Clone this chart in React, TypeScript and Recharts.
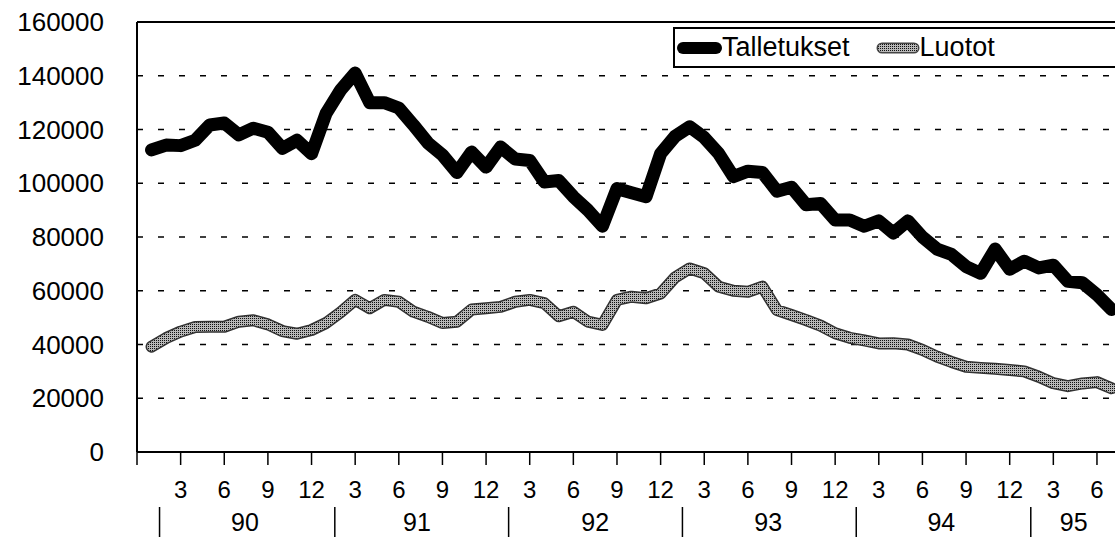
import React from 'react';
import { LineChart, Line, XAxis, YAxis, CartesianGrid, ReferenceLine, Legend } from 'recharts';

const FONT = "'Liberation Sans', Arial, Helvetica, sans-serif";

// Monthly values, Jan 1990 ... Jul 1995
const talletukset = [
  112400, 114200, 114000, 116000, 121700, 122400, 118000, 120500, 119000, 113000, 116000, 111000,
  126000, 134700, 141000, 130000, 130000, 128000, 121700, 115000, 110500, 104000, 111600, 106000,
  113500, 109000, 108500, 100500, 101000, 95000, 90000, 84000, 98000, 96500, 95000, 111000,
  117500, 121000, 117000, 111000, 102500, 104500, 104000, 97000, 98500, 92000, 92500, 86300,
  86300, 84000, 86000, 81500, 86000, 80000, 75500, 73500, 69000, 66500, 75500, 68000,
  71000, 68500, 69500, 63500, 63000, 58500, 53000,
];

const luotot = [
  39200, 42400, 44800, 46500, 46600, 46600, 48500, 49000, 47500, 45000, 44000, 45400,
  48000, 52000, 56600, 53500, 56600, 55900, 52200, 50300, 48000, 48500, 53000, 53500,
  54000, 55900, 56600, 55400, 50500, 52200, 48500, 47300, 56600, 57800, 57200, 59000,
  65000, 68300, 66500, 61500, 60000, 59600, 61500, 52800, 51000, 49100, 47000, 44200,
  42500, 41500, 40400, 40500, 40000, 38000, 35500, 33500, 31700, 31300, 31000, 30500,
  30000, 28000, 25600, 24500, 25500, 26000, 23700,
];

const yTicks = [0, 20000, 40000, 60000, 80000, 100000, 120000, 140000, 160000];

const monthTicks = [-1, 2, 5, 8, 11, 14, 17, 20, 23, 26, 29, 32, 35, 38, 41, 44, 47, 50, 53, 56, 59, 62, 65];
const monthTickLabels = ['', '3', '6', '9', '12', '3', '6', '9', '12', '3', '6', '9', '12', '3', '6', '9', '12', '3', '6', '9', '12', '3', '6'];

const yearSeparators = [0.55, 12.6, 24.55, 36.5, 48.45, 60.45];
const yearLabelPositions = [6.42, 18.25, 30.5, 42.4, 54.3, 63.4];
const yearLabels = ['90', '91', '92', '93', '94', '95'];

const seriesNames = ['Talletukset', 'Luotot'];

const data = talletukset.map((v, i) => ({ i, talletukset: v, luotot: luotot[i] }));

const MonthTick = (props: any) => {
  const { x, y, payload } = props;
  const idx = monthTicks.indexOf(payload.value);
  return (
    <text x={x} y={y} dy={33} textAnchor="middle" fontSize={24} fill="#000" fontFamily={FONT}>
      {idx >= 0 ? monthTickLabels[idx] : ''}
    </text>
  );
};

const YearTick = (props: any) => {
  const { x, y, payload } = props;
  const s = yearSeparators.indexOf(payload.value);
  if (s >= 0) {
    return <line x1={x} x2={x} y1={y + 5} y2={y + 40} stroke="#000" strokeWidth={1.5} />;
  }
  const l = yearLabelPositions.indexOf(payload.value);
  return (
    <text x={x} y={y} dy={29} textAnchor="middle" fontSize={25} fill="#000" fontFamily={FONT}>
      {l >= 0 ? yearLabels[l] : ''}
    </text>
  );
};

const LegendBox = () => (
  <div
    style={{
      boxSizing: 'border-box',
      width: 460,
      height: 41,
      border: '2px solid #000',
      background: '#fff',
      display: 'flex',
      alignItems: 'center',
      fontFamily: FONT,
      fontSize: 27,
      color: '#000',
      whiteSpace: 'nowrap',
    }}
  >
    <svg width={46} height={20} style={{ marginLeft: 1 }}>
      <line x1={7} x2={40} y1={10} y2={10} stroke="#000" strokeWidth={12} strokeLinecap="round" />
    </svg>
    <span>{seriesNames[0]}</span>
    <svg width={44} height={20} style={{ marginLeft: 26 }}>
      <defs>
        <pattern id="ditherLegend" width={2} height={2} patternUnits="userSpaceOnUse">
          <rect width={2} height={2} fill="#b8b8b8" />
          <rect width={1} height={1} fill="#111" />
        </pattern>
      </defs>
      <line x1={6} x2={38} y1={10} y2={10} stroke="#444" strokeWidth={11} strokeLinecap="round" />
      <line x1={6} x2={38} y1={10} y2={10} stroke="url(#ditherLegend)" strokeWidth={8} strokeLinecap="round" />
    </svg>
    <span>{seriesNames[1]}</span>
  </div>
);

export default function App() {
  return (
    <div style={{ position: 'absolute', left: 0, top: 0, width: 1115, height: 537, background: '#fff', overflow: 'hidden', fontFamily: FONT }}>
      <LineChart width={1115} height={537} data={data} margin={{ top: 22, right: 0, left: 0, bottom: 0 }}>
        <defs>
          <pattern id="dither" width={2} height={2} patternUnits="userSpaceOnUse">
            <rect width={2} height={2} fill="#b8b8b8" />
            <rect width={1} height={1} fill="#111" />
          </pattern>
        </defs>
        <CartesianGrid horizontal vertical={false} stroke="#000" strokeWidth={1.5} strokeDasharray="6 15" />
        <XAxis
          dataKey="i"
          type="number"
          domain={[-1, 66.24]}
          allowDataOverflow
          ticks={monthTicks}
          interval={0}
          height={50}
          tickSize={13}
          tickMargin={0}
          axisLine={{ stroke: '#000', strokeWidth: 2 }}
          tickLine={{ stroke: '#000', strokeWidth: 1.5 }}
          tick={<MonthTick />}
        />
        <XAxis
          xAxisId="year"
          dataKey="i"
          type="number"
          domain={[-1, 66.24]}
          allowDataOverflow
          ticks={[...yearSeparators, ...yearLabelPositions]}
          interval={0}
          height={35}
          tickSize={0}
          tickMargin={0}
          axisLine={false}
          tickLine={false}
          tick={<YearTick />}
        />
        <YAxis
          domain={[0, 160000]}
          ticks={yTicks}
          interval={0}
          width={137}
          tickSize={0}
          tickMargin={33}
          axisLine={{ stroke: '#000', strokeWidth: 2 }}
          tickLine={false}
          tick={{ fill: '#000', fontSize: 26, fontFamily: FONT }}
        />
        <ReferenceLine y={160000} stroke="#000" strokeWidth={2} />
        <Legend
          layout="horizontal"
          verticalAlign="middle"
          align="center"
          content={<LegendBox />}
          wrapperStyle={{ position: 'absolute', left: 673, top: 27, width: 460, height: 41 }}
        />
        <Line
          type="linear"
          dataKey="luotot"
          stroke="#333"
          strokeWidth={12}
          dot={false}
          activeDot={false}
          strokeLinejoin="round"
          strokeLinecap="round"
          isAnimationActive={false}
          legendType="none"
        />
        <Line
          type="linear"
          dataKey="luotot"
          stroke="url(#dither)"
          strokeWidth={9}
          dot={false}
          activeDot={false}
          strokeLinejoin="round"
          strokeLinecap="round"
          isAnimationActive={false}
          legendType="none"
        />
        <Line
          type="linear"
          dataKey="talletukset"
          stroke="#000"
          strokeWidth={13}
          dot={false}
          activeDot={false}
          strokeLinejoin="round"
          strokeLinecap="round"
          isAnimationActive={false}
        />
      </LineChart>
    </div>
  );
}
